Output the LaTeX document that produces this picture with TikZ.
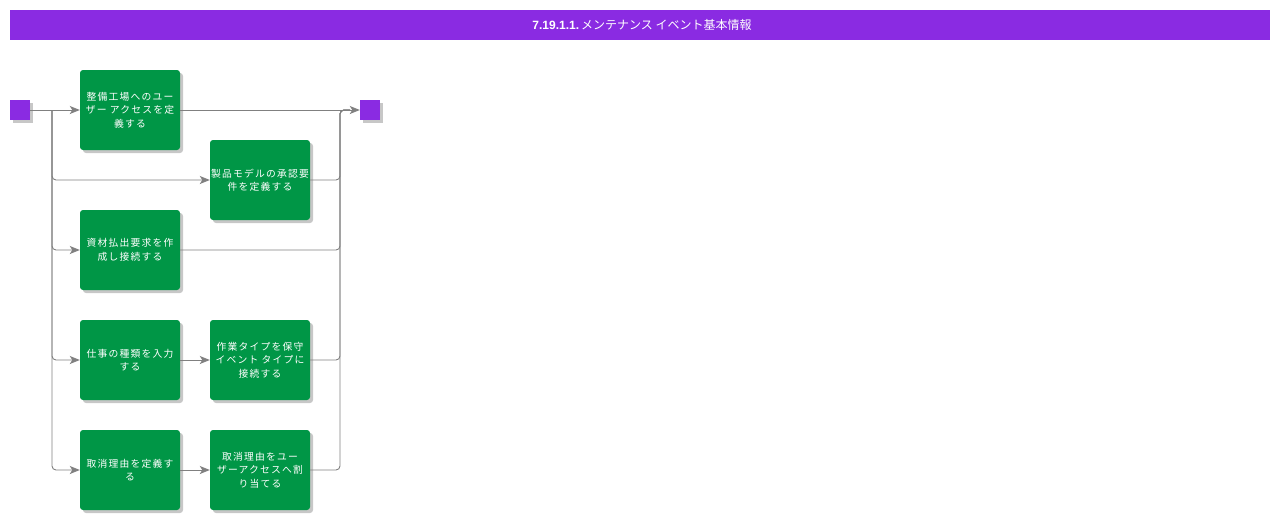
\documentclass[tikz,border=0pt]{standalone}
\usepackage{fontspec}
\setmainfont{Liberation Sans}
\newfontfamily\jpfont[LetterSpace=12]{Noto Sans CJK JP}
\newfontfamily\jptitle{Noto Sans CJK JP}
\usetikzlibrary{arrows.meta,shadows,calc}
\definecolor{purp}{RGB}{138,43,226}
\definecolor{grn}{RGB}{0,150,70}
\definecolor{conncol}{RGB}{128,128,128}
\tikzset{
  task/.style={draw=none, fill=grn, rounded corners=3pt, minimum width=100pt, minimum height=80pt,
    text width=98pt, align=center, inner sep=0pt, text=white,
    font=\jpfont\fontsize{9.8}{13.5}\selectfont,
    drop shadow={shadow xshift=3pt, shadow yshift=-3pt, fill=black, opacity=0.22}},
  term/.style={draw=none, fill=purp, minimum width=20pt, minimum height=20pt, inner sep=0pt,
    drop shadow={shadow xshift=3pt, shadow yshift=-3pt, fill=black, opacity=0.22}},
  conn/.style={draw=conncol, line width=0.9pt, rounded corners=4pt},
  arr/.style={conn, -{Stealth[length=10pt,width=8pt,inset=2.5pt]}},
}
\begin{document}
\begin{tikzpicture}[x=1pt,y=-1pt]
\useasboundingbox (0,0) rectangle (1280,520);
\fill[white] (0,0) rectangle (1280,520);
\node[fill=purp, minimum width=1260pt, minimum height=30pt, inner sep=0pt] (title) at (640,25) {};
\node[text=white, inner sep=0pt] (titletext) at (642,25)
  {\fontsize{12}{14}\selectfont\textbf{7.19.1.1.}\,\jptitle メンテナンス イベント基本情報};

\node[term] (s) at (20,110) {};
\node[term] (e) at (370,110) {};

\node[task] (A) at (130,110) {整備工場へのユー\\ザー アクセスを定\\義する};
\node[task] (B) at (260,180) {製品モデルの承認要\\件を定義する};
\node[task] (C) at (130,250) {資材払出要求を作\\成し接続する};
\node[task] (D) at (130,360) {仕事の種類を入力\\する};
\node[task] (E) at (260,360) {作業タイプを保守\\イベント タイプに\\接続する};
\node[task] (F) at (130,470) {取消理由を定義す\\る};
\node[task] (G) at (260,470) {取消理由をユー\\ザーアクセスへ割\\り当てる};

\coordinate (sp) at (52,110);
\coordinate (jn) at (340,110);

\draw[arr] (s.east) -- (A.west);
\draw[arr] (sp) |- (B.west);
\draw[arr] (sp) |- (C.west);
\draw[arr] (sp) |- (D.west);
\draw[arr] (sp) |- (F.west);
\draw[arr] (D.east) -- (E.west);
\draw[arr] (F.east) -- (G.west);

\draw[arr] (A.east) -- (e.west);
\draw[conn] (B.east) -| (jn) -- ($(jn)+(10,0)$);
\draw[conn] (C.east) -| (jn) -- ($(jn)+(10,0)$);
\draw[conn] (E.east) -| (jn) -- ($(jn)+(10,0)$);
\draw[conn] (G.east) -| (jn) -- ($(jn)+(10,0)$);
\end{tikzpicture}
\end{document}
